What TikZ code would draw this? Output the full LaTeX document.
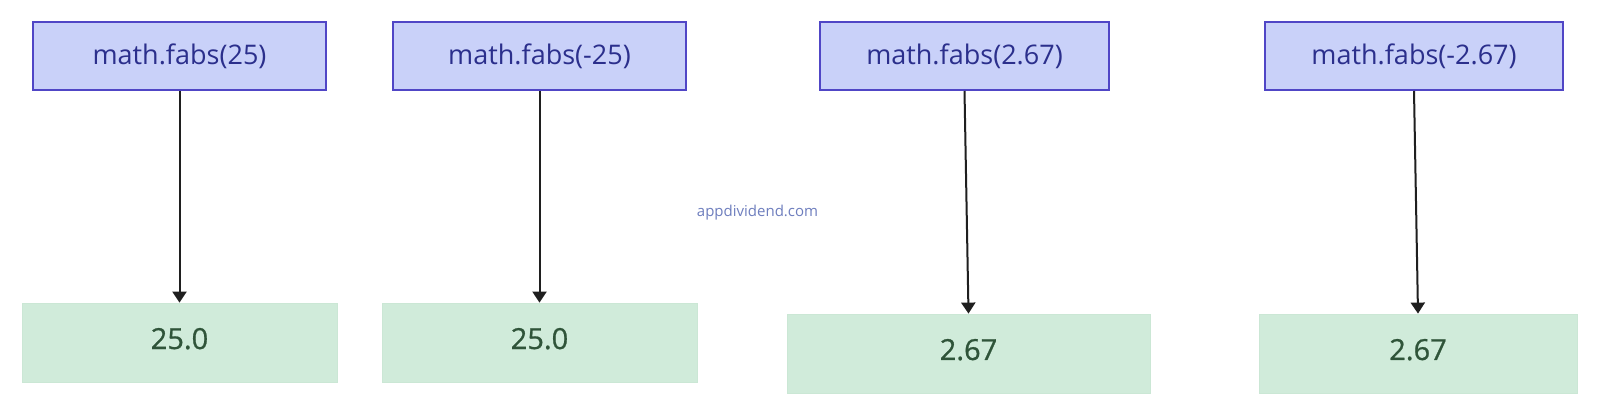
\documentclass[tikz,border=0pt]{standalone}
\usepackage{fontspec}
\setmainfont{Open Sans}
\newfontfamily\resfont[FakeBold=0.8]{Open Sans}
\usetikzlibrary{arrows.meta}
\definecolor{callfill}{HTML}{C9D1F9}
\definecolor{calldraw}{HTML}{5046C6}
\definecolor{calltext}{HTML}{2B2F8C}
\definecolor{resfill}{HTML}{D0EBDA}
\definecolor{resdraw}{HTML}{CBE7D5}
\definecolor{restext}{HTML}{2F5439}
\definecolor{marktext}{HTML}{6E7EBE}
\tikzset{
  callbox/.style={draw=calldraw, fill=callfill, line width=1pt, inner sep=0pt,
    minimum height=34pt, text=calltext, font=\fontsize{13.5}{16}\selectfont},
  resbox/.style={draw=resdraw, fill=resfill, line width=0.4pt, inner sep=0pt,
    minimum height=39.5pt, text=restext, text depth=4pt, font=\resfont\fontsize{14.5}{17}\selectfont},
  flow/.style={draw=black!88, line width=1pt, -{Triangle[width=7pt,length=5.5pt]}},
}
\begin{document}
\begin{tikzpicture}[x=0.5pt,y=-0.5pt]
\useasboundingbox[fill=white] (0,0) rectangle (1600,416);
\node[callbox, minimum width=146.5pt] (b1) at (179.5,56) {math.fabs(25)};
\node[callbox, minimum width=146.5pt] (b2) at (539.5,56) {math.fabs(-25)};
\node[callbox, minimum width=144.5pt] (b3) at (964.5,56) {math.fabs(2.67)};
\node[callbox, minimum width=149pt] (b4) at (1414,56) {math.fabs(-2.67)};
\node[resbox, minimum width=157.5pt] (g1) at (179.5,342.5) {25.0};
\node[resbox, minimum width=157.5pt] (g2) at (539.5,342.5) {25.0};
\node[resbox, minimum width=181.5pt] (g3) at (968.5,353.5) {2.67};
\node[resbox, minimum width=159pt] (g4) at (1418,353.5) {2.67};
\node[text=marktext, font=\fontsize{7.5}{9}\selectfont] (wm) at (757.5,213) {appdividend.com};
\draw[flow] (b1.south) -- (g1.north);
\draw[flow] (b2.south) -- (g2.north);
\draw[flow] (b3.south) -- (g3.north);
\draw[flow] (b4.south) -- (g4.north);
\end{tikzpicture}
\end{document}
